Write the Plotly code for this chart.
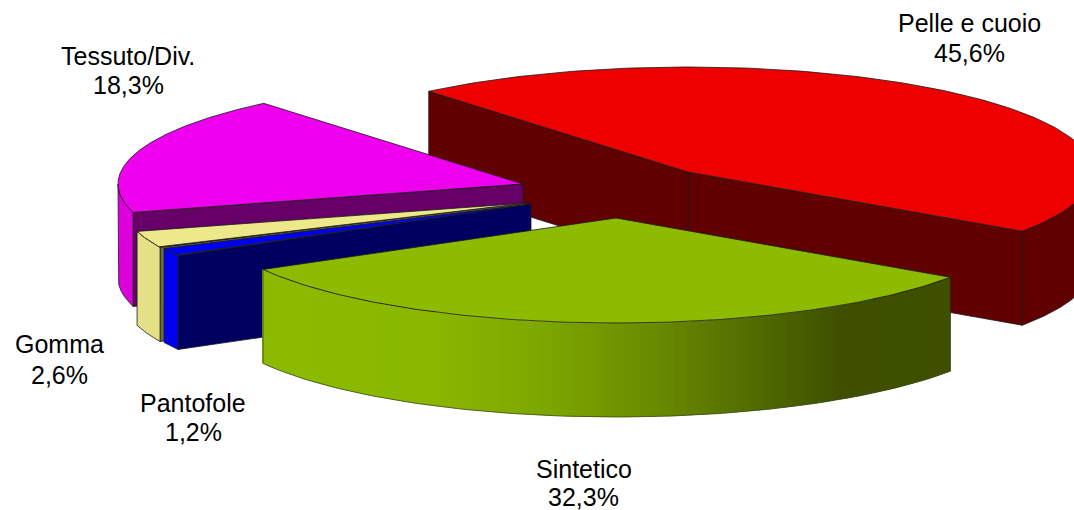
import numpy as np
import plotly.graph_objects as go

# ---- data ----
categories = ["Pelle e cuoio", "Sintetico", "Pantofole", "Gomma", "Tessuto/Div."]
shares = [45.6, 32.3, 1.2, 2.6, 18.3]

# ---- pie geometry and styles ----
START_ANGLE = 129.8
RX, RY, DEPTH = 405, 105, 94
CENTERS = {"Pelle e cuoio": (688, 172), "Sintetico": (616, 218), "Pantofole": (531, 204),
           "Gomma": (527, 203), "Tessuto/Div.": (523, 184)}
TOP = {"Pelle e cuoio": "#EE0000", "Sintetico": "#8CBB00", "Pantofole": "#0000F0",
       "Gomma": "#EDE98A", "Tessuto/Div.": "#EE00EE"}
SIDE = {"Pelle e cuoio": "#600000", "Sintetico": None, "Pantofole": "#0000F0",
        "Gomma": "#E3E085", "Tessuto/Div.": "#DD00DD"}
FACE = {"Pelle e cuoio": "#600000", "Sintetico": "#3E5000", "Pantofole": "#000060",
        "Gomma": "#6B6B3C", "Tessuto/Div.": "#660066"}
PAINT_ORDER = ["Pelle e cuoio", "Tessuto/Div.", "Gomma", "Pantofole", "Sintetico"]
LABELS = {"Pelle e cuoio": (969.5, 32, 62), "Sintetico": (583.5, 478, 506), "Pantofole": (193, 412, 441),
          "Gomma": (59.5, 353, 384), "Tessuto/Div.": (128, 65, 94)}
GRAD_X = [263, 430, 540, 660, 840, 951]
GRAD_RGB = [(140, 187, 0), (138, 184, 0), (126, 168, 0), (104, 138, 0), (62, 80, 0), (62, 80, 0)]
EDGE = "#1a1a1a"

fig = go.Figure()


def poly(xs, ys, fill, line=EDGE, width=0.8):
    fig.add_trace(go.Scatter(x=list(xs), y=list(ys), mode="lines", fill="toself", fillcolor=fill,
                             line=dict(color=line if line else fill, width=width if line else 0),
                             hoverinfo="skip", showlegend=False))


def arc(c, a0, a1, n=160):
    t = np.radians(np.linspace(a0, a1, n))
    return c[0] + RX * np.cos(t), c[1] - RY * np.sin(t)


def grad(x):
    return "rgb(%d,%d,%d)" % tuple(np.interp(x, GRAD_X, [g[i] for g in GRAD_RGB]) for i in range(3))


# cumulative angular extents, clockwise from the start angle
bounds = {}
angle = START_ANGLE
for name, share in zip(categories, shares):
    bounds[name] = (angle, angle - share * 3.6)
    angle -= share * 3.6

for name in PAINT_ORDER:
    hi, lo = bounds[name]
    c = CENTERS[name]
    # radial cut faces that look towards the viewer
    for th, normal in ((lo, lo - 90), (hi, hi + 90)):
        if np.sin(np.radians(normal)) < 0:
            px = c[0] + RX * np.cos(np.radians(th))
            py = c[1] - RY * np.sin(np.radians(th))
            poly([c[0], px, px, c[0], c[0]], [c[1], py, py + DEPTH, c[1] + DEPTH, c[1]], FACE[name])
    # outer rim: the part of the arc on the near half of the ellipse
    s_hi = min(hi, 0)
    s_lo = max(lo, -180)
    if s_hi > s_lo:
        if SIDE[name] is None:
            edges = np.linspace(s_hi, s_lo, 141)
            for a, b in zip(edges[:-1], edges[1:]):
                xa, ya = arc(c, a, b - 0.25, 4)
                xm = float(np.mean(xa))
                poly(list(xa) + list(xa[::-1]), list(ya) + list(ya[::-1] + DEPTH), grad(xm), line=None)
            xa, ya = arc(c, s_hi, s_lo)
            fig.add_trace(go.Scatter(x=[xa[0]] + list(xa) + [xa[-1]],
                                     y=[ya[0] + DEPTH] + list(ya + DEPTH) + [ya[-1]],
                                     mode="lines", line=dict(color="#3a4a10", width=0.8),
                                     hoverinfo="skip", showlegend=False))
            fig.add_trace(go.Scatter(x=[xa[0], xa[0]], y=[ya[0], ya[0] + DEPTH], mode="lines",
                                     line=dict(color="#20280a", width=0.8), hoverinfo="skip", showlegend=False))
        else:
            xa, ya = arc(c, s_hi, s_lo)
            poly(list(xa) + list(xa[::-1]) + [xa[0]], list(ya) + list(ya[::-1] + DEPTH) + [ya[0]], SIDE[name])
    # top surface
    xa, ya = arc(c, hi, lo)
    poly([c[0]] + list(xa) + [c[0]], [c[1]] + list(ya) + [c[1]], TOP[name])

annotations = []
for name, share in zip(categories, shares):
    x, y1, y2 = LABELS[name]
    pct = f"{share:.1f}".replace(".", ",") + "%"
    for text, base in ((name, y1), (pct, y2)):
        annotations.append(dict(x=x, y=base - 9, xref="x", yref="y", text=text, showarrow=False,
                                xanchor="center", yanchor="middle",
                                font=dict(family="Liberation Sans", size=25, color="#000000")))

fig.update_layout(
    width=1074, height=510, margin=dict(l=0, r=0, t=0, b=0),
    paper_bgcolor="white", plot_bgcolor="white", showlegend=False, annotations=annotations,
    xaxis=dict(range=[0, 1074], visible=False, fixedrange=True),
    yaxis=dict(range=[510, 0], visible=False, fixedrange=True),
)
fig.write_html("out.html", config={"displayModeBar": False},
               post_script="document.body.style.margin='0';")
